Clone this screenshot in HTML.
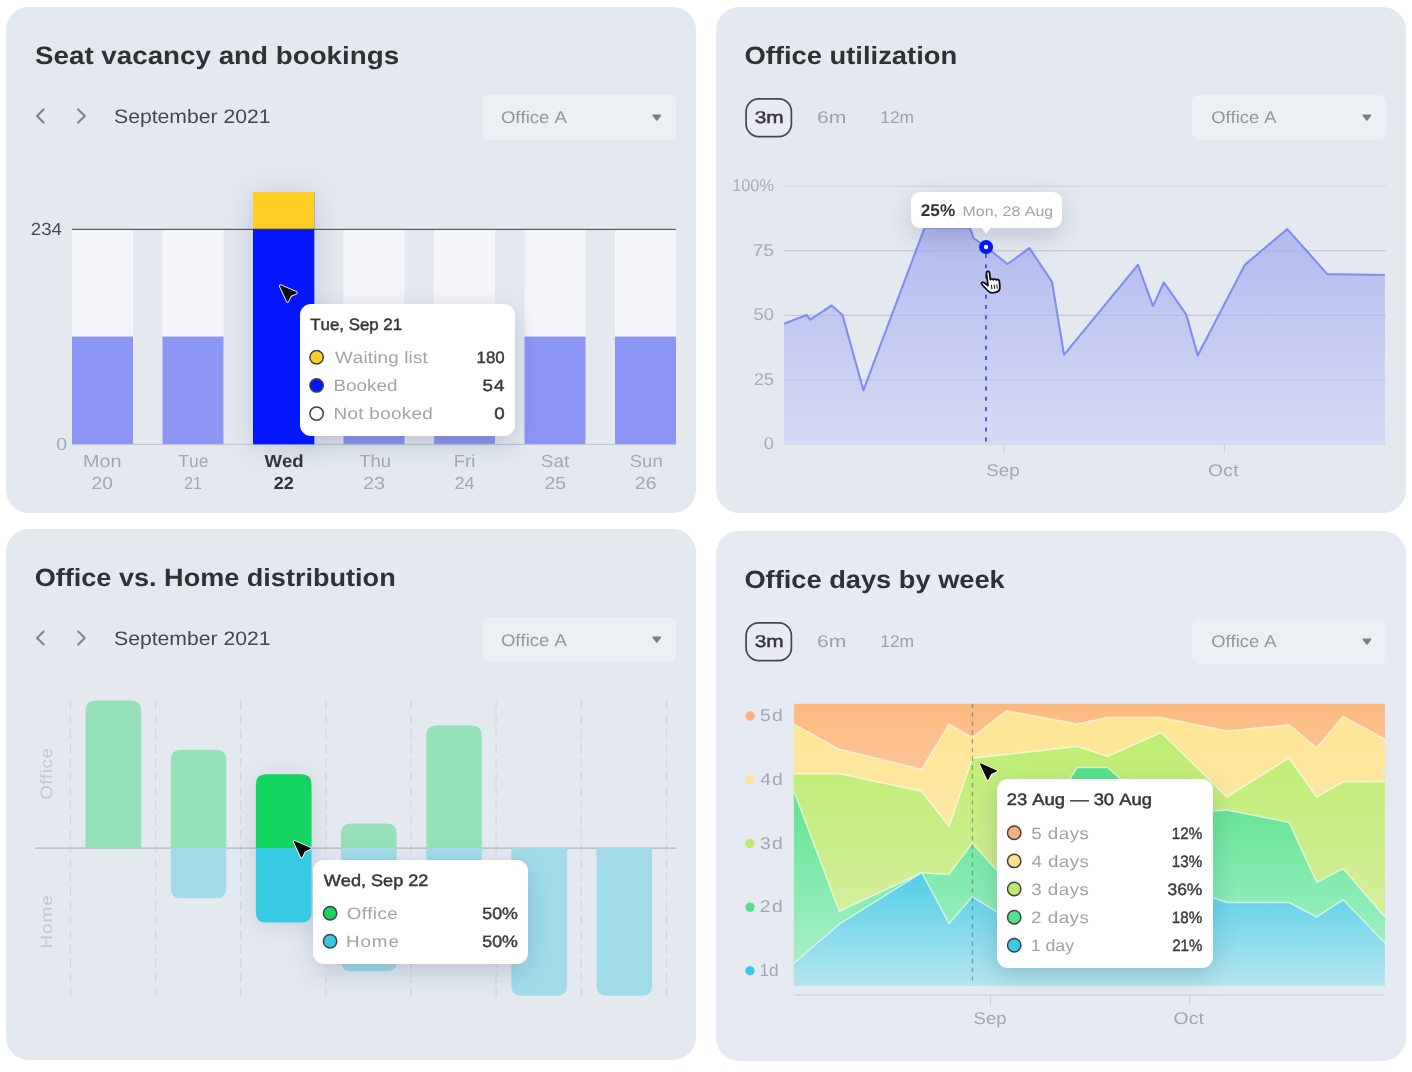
<!DOCTYPE html>
<html lang="en"><head><meta charset="utf-8"><title>Office dashboard</title><style>
html,body{margin:0;padding:0;background:#fff;}
body{width:1412px;height:1072px;position:relative;overflow:hidden;font-family:"Liberation Sans",sans-serif;}
.card{position:absolute;background:#e4e9f0;border-radius:23px;}
.t{position:absolute;left:0;top:0;white-space:nowrap;line-height:1;font-kerning:none;text-rendering:geometricPrecision;}
.dd{position:absolute;width:194px;height:44.5px;border-radius:6.5px;background:#ecf0f4;}
.pill{position:absolute;width:44.2px;height:36.6px;border:1.7px solid #45474b;border-radius:13.5px;background:#e8ecf2;}
.tip{position:absolute;background:#fff;border-radius:11px;box-shadow:0 8px 24px rgba(45,55,95,.20);}
.tip.ns{box-shadow:none;}
.dot{position:absolute;width:12px;height:12px;border-radius:50%;border:1.5px solid #3f4145;}
svg{position:absolute;left:0;top:0;overflow:visible;}
</style></head><body>
<div class="card" style="left:6px;top:7px;width:690px;height:506px"></div>
<div class="card" style="left:716px;top:7px;width:690px;height:506px"></div>
<div class="card" style="left:6px;top:528.5px;width:690px;height:531.5px"></div>
<div class="card" style="left:716px;top:530.5px;width:690px;height:530px;background:#e6eaf2"></div>
<div class="dd" style="left:482px;top:95px"></div>
<div class="dd" style="left:1192px;top:95px"></div>
<div class="dd" style="left:482px;top:617px"></div>
<div class="dd" style="left:1192px;top:619px"></div>
<svg width="1412" height="1072" viewBox="0 0 1412 1072"><defs>
<filter id="tsh" x="-30%" y="-40%" width="160%" height="200%"><feOffset dy="8"/><feGaussianBlur stdDeviation="12"/></filter>
<filter id="sh1" x="-150%" y="-40%" width="400%" height="180%"><feOffset dy="2"/><feGaussianBlur stdDeviation="15"/><feComponentTransfer><feFuncA type="linear" slope=".40"/></feComponentTransfer><feColorMatrix values="0 0 0 0 .25  0 0 0 0 .28  0 0 0 0 .4  0 0 0 1 0"/></filter>
<filter id="sh3" x="-150%" y="-60%" width="400%" height="220%"><feOffset dy="3"/><feGaussianBlur stdDeviation="12"/><feComponentTransfer><feFuncA type="linear" slope=".30"/></feComponentTransfer><feColorMatrix values="0 0 0 0 .25  0 0 0 0 .3  0 0 0 0 .4  0 0 0 1 0"/></filter>
<linearGradient id="g2" gradientUnits="userSpaceOnUse" x1="0" y1="228" x2="0" y2="444"><stop offset="0" stop-color="#b3bbef"/><stop offset="1" stop-color="#d6dbf3"/></linearGradient>
<linearGradient id="a5" gradientUnits="userSpaceOnUse" x1="0" y1="703" x2="0" y2="986"><stop offset="0" stop-color="#fdba7f"/><stop offset=".3" stop-color="#fbc7a0"/><stop offset="1" stop-color="#fbd5b8"/></linearGradient>
<linearGradient id="a4" gradientUnits="userSpaceOnUse" x1="0" y1="711" x2="0" y2="986"><stop offset="0" stop-color="#fee694"/><stop offset=".45" stop-color="#fbe7a8"/><stop offset="1" stop-color="#fbeec8"/></linearGradient>
<linearGradient id="a3" gradientUnits="userSpaceOnUse" x1="0" y1="732" x2="0" y2="986"><stop offset="0" stop-color="#bcee70"/><stop offset=".7" stop-color="#d4ee9b"/><stop offset="1" stop-color="#e0f0b4"/></linearGradient>
<linearGradient id="a2" gradientUnits="userSpaceOnUse" x1="0" y1="767" x2="0" y2="986"><stop offset="0" stop-color="#56e28a"/><stop offset=".55" stop-color="#86ebb0"/><stop offset="1" stop-color="#b4f0cc"/></linearGradient>
<linearGradient id="a1" gradientUnits="userSpaceOnUse" x1="0" y1="872" x2="0" y2="986"><stop offset="0" stop-color="#50cde8"/><stop offset="1" stop-color="#b5e6ee"/></linearGradient>
</defs>
<g fill="none" stroke="#80848e" stroke-width="2.1" stroke-linecap="round" stroke-linejoin="round"><path d="M43.6 109.4 L37 116 L43.6 122.6" /><path d="M78.2 109.4 L84.8 116 L78.2 122.6" /><path d="M43.6 631.4 L37 638 L43.6 644.6" /><path d="M78.2 631.4 L84.8 638 L78.2 644.6" /></g>
<path d="M653.1999999999999 115.2 L660.4 115.2 L656.8 119.89999999999999 Z" fill="#7a7e87" stroke="#7a7e87" stroke-width="1.6" stroke-linejoin="round"/>
<path d="M1363.3000000000002 115.2 L1370.5 115.2 L1366.9 119.89999999999999 Z" fill="#7a7e87" stroke="#7a7e87" stroke-width="1.6" stroke-linejoin="round"/>
<path d="M653.1999999999999 637.1999999999999 L660.4 637.1999999999999 L656.8 641.9 Z" fill="#7a7e87" stroke="#7a7e87" stroke-width="1.6" stroke-linejoin="round"/>
<path d="M1363.3000000000002 639.1999999999999 L1370.5 639.1999999999999 L1366.9 643.9 Z" fill="#7a7e87" stroke="#7a7e87" stroke-width="1.6" stroke-linejoin="round"/>
<rect x="746.1" y="98.85" width="45.3" height="37.8" rx="12.6" fill="#e8ecf2" stroke="#45474b" stroke-width="1.7"/>
<rect x="746.1" y="622.85" width="45.3" height="37.8" rx="12.6" fill="#e8ecf2" stroke="#45474b" stroke-width="1.7"/>
<rect x="253" y="192" width="61.3" height="252.3" fill="#0316fd" filter="url(#sh1)"/>
<rect x="72.0" y="229.6" width="61" height="214.6" fill="#f3f5f9"/>
<rect x="72.0" y="336.6" width="61" height="107.6" fill="#8b95f3"/>
<rect x="162.5" y="229.6" width="61" height="214.6" fill="#f3f5f9"/>
<rect x="162.5" y="336.6" width="61" height="107.6" fill="#8b95f3"/>
<rect x="343.5" y="229.6" width="61" height="214.6" fill="#f3f5f9"/>
<rect x="343.5" y="336.6" width="61" height="107.6" fill="#8b95f3"/>
<rect x="434.0" y="229.6" width="61" height="214.6" fill="#f3f5f9"/>
<rect x="434.0" y="336.6" width="61" height="107.6" fill="#8b95f3"/>
<rect x="524.5" y="229.6" width="61" height="214.6" fill="#f3f5f9"/>
<rect x="524.5" y="336.6" width="61" height="107.6" fill="#8b95f3"/>
<rect x="615.0" y="229.6" width="61" height="214.6" fill="#f3f5f9"/>
<rect x="615.0" y="336.6" width="61" height="107.6" fill="#8b95f3"/>
<rect x="72" y="443.8" width="604" height="1" fill="#b9bcc4"/>
<rect x="300" y="304" width="215" height="132" rx="11" fill="rgb(45,55,95)" fill-opacity=".2" filter="url(#tsh)"/>
<rect x="253" y="192" width="61.3" height="252.3" fill="#0316fd"/>
<rect x="253" y="192" width="61.3" height="37.6" fill="#ffce27"/>
<rect x="72" y="228.8" width="604" height="1.1" fill="#4a4c52"/>
<rect x="253" y="228.8" width="61.3" height="1.1" fill="#35386b"/>
<rect x="784" y="185.6" width="602" height="1.2" fill="#d2d6dd"/>
<rect x="784" y="250.20000000000002" width="602" height="1.2" fill="#d2d6dd"/>
<rect x="784" y="314.79999999999995" width="602" height="1.2" fill="#d2d6dd"/>
<rect x="784" y="379.4" width="602" height="1.2" fill="#d2d6dd"/>
<rect x="784" y="443.7" width="602" height="1.2" fill="#d2d6dd"/>
<polygon points="784,444.3 784,323.7 806.7,315 810.3,319.6 831.6,305.5 842.5,315 863.4,390.3 924.6,227.8 969.9,227.8 973.5,238 986,247 1007.5,264 1029.5,248.2 1052,281.8 1064,354.8 1137.9,264.9 1153,306.1 1163.8,282.4 1186.3,314.7 1197.7,355.4 1244.8,264.9 1287.3,229.1 1327.3,274.1 1385,275 1385,444.3" fill="url(#g2)"/>
<rect x="784" y="250.20000000000002" width="601" height="1.2" fill="#7d86c9" opacity=".16"/>
<rect x="784" y="314.79999999999995" width="601" height="1.2" fill="#7d86c9" opacity=".16"/>
<rect x="784" y="379.4" width="601" height="1.2" fill="#7d86c9" opacity=".16"/>
<polyline points="784,323.7 806.7,315 810.3,319.6 831.6,305.5 842.5,315 863.4,390.3 924.6,227.8 969.9,227.8 973.5,238 986,247 1007.5,264 1029.5,248.2 1052,281.8 1064,354.8 1137.9,264.9 1153,306.1 1163.8,282.4 1186.3,314.7 1197.7,355.4 1244.8,264.9 1287.3,229.1 1327.3,274.1 1385,275" fill="none" stroke="#818df0" stroke-width="2.1" stroke-linejoin="round"/>
<rect x="1003.6" y="444.3" width="1" height="9" fill="#cdd0d8"/><rect x="1223.8" y="444.3" width="1" height="9" fill="#cdd0d8"/>
<line x1="986" y1="254" x2="986" y2="444.5" stroke="#4453f1" stroke-width="1.9" stroke-dasharray="4 6.2"/>
<line x1="70.4" y1="700.6" x2="70.4" y2="996.6" stroke="#d4d7de" stroke-width="1.3" stroke-dasharray="9 5.35"/>
<line x1="155.6" y1="700.6" x2="155.6" y2="996.6" stroke="#d4d7de" stroke-width="1.3" stroke-dasharray="9 5.35"/>
<line x1="240.7" y1="700.6" x2="240.7" y2="996.6" stroke="#d4d7de" stroke-width="1.3" stroke-dasharray="9 5.35"/>
<line x1="325.9" y1="700.6" x2="325.9" y2="996.6" stroke="#d4d7de" stroke-width="1.3" stroke-dasharray="9 5.35"/>
<line x1="411.0" y1="700.6" x2="411.0" y2="996.6" stroke="#d4d7de" stroke-width="1.3" stroke-dasharray="9 5.35"/>
<line x1="496.1" y1="700.6" x2="496.1" y2="996.6" stroke="#d4d7de" stroke-width="1.3" stroke-dasharray="9 5.35"/>
<line x1="581.3" y1="700.6" x2="581.3" y2="996.6" stroke="#d4d7de" stroke-width="1.3" stroke-dasharray="9 5.35"/>
<line x1="666.5" y1="700.6" x2="666.5" y2="996.6" stroke="#d4d7de" stroke-width="1.3" stroke-dasharray="9 5.35"/>
<rect x="35" y="847.6" width="641.5" height="1" fill="#a6a9af"/>
<path d="M85.6 848 V710.6 Q85.6 700.6 95.6 700.6 H131.2 Q141.2 700.6 141.2 710.6 V848 Z" fill="#96e1b9"/>
<path d="M170.75 848 V759.8 Q170.75 749.8 180.75 749.8 H216.35 Q226.35 749.8 226.35 759.8 V848 Z" fill="#96e1b9"/>
<path d="M170.75 848 V888.2 Q170.75 898.2 180.75 898.2 H216.35 Q226.35 898.2 226.35 888.2 V848 Z" fill="#a1dce8"/>
<path d="M341.05 848 V833.4 Q341.05 823.4 351.05 823.4 H386.65000000000003 Q396.65000000000003 823.4 396.65000000000003 833.4 V848 Z" fill="#96e1b9"/>
<path d="M341.05 848 V961.2 Q341.05 971.2 351.05 971.2 H386.65000000000003 Q396.65000000000003 971.2 396.65000000000003 961.2 V848 Z" fill="#a1dce8"/>
<path d="M426.20000000000005 848 V735.4 Q426.20000000000005 725.4 436.20000000000005 725.4 H471.80000000000007 Q481.80000000000007 725.4 481.80000000000007 735.4 V848 Z" fill="#96e1b9"/>
<path d="M426.20000000000005 848 V863 Q426.20000000000005 873 436.20000000000005 873 H471.80000000000007 Q481.80000000000007 873 481.80000000000007 863 V848 Z" fill="#a1dce8"/>
<path d="M511.35 848 V985.8 Q511.35 995.8 521.35 995.8 H556.95 Q566.95 995.8 566.95 985.8 V848 Z" fill="#a1dce8"/>
<path d="M596.5 848 V985.8 Q596.5 995.8 606.5 995.8 H642.1 Q652.1 995.8 652.1 985.8 V848 Z" fill="#a1dce8"/>
<rect x="255.9" y="774.2" width="55.6" height="148.4" rx="10" fill="#13d460" filter="url(#sh3)"/>
<rect x="313.3" y="860.1" width="215.2" height="104" rx="11" fill="rgb(45,55,95)" fill-opacity=".2" filter="url(#tsh)"/>
<path d="M255.9 848 V784.2 Q255.9 774.2 265.9 774.2 H301.5 Q311.5 774.2 311.5 784.2 V848 Z" fill="#13d460"/>
<path d="M255.9 848 V912.6 Q255.9 922.6 265.9 922.6 H301.5 Q311.5 922.6 311.5 912.6 V848 Z" fill="#35c9e2"/>
<rect x="793.9" y="703.8" width="591.1" height="282.0" fill="url(#a5)"/>
<polygon points="793.9,985.8 793.9,724.1 839.3,749.3 921.7,769.5 949.1,724.1 972.3,737.7 1006.3,710.8 1077.1,724.1 1107.5,717.5 1161,717.5 1226.9,731.1 1289.1,724.7 1316.6,747.8 1343.2,716.6 1385.0,739.2 1385.0,985.8" fill="url(#a4)"/>
<polyline points="793.9,724.1 839.3,749.3 921.7,769.5 949.1,724.1 972.3,737.7 1006.3,710.8 1077.1,724.1 1107.5,717.5 1161,717.5 1226.9,731.1 1289.1,724.7 1316.6,747.8 1343.2,716.6 1385.0,739.2" fill="none" stroke="#fff" stroke-opacity=".6" stroke-width="1.5" stroke-linejoin="round"/>
<polygon points="793.9,985.8 793.9,773.8 839.3,773.8 921.7,791.2 949.1,826.5 972.3,758.3 1006.3,754.5 1077.1,746.4 1107.5,756.5 1161,732.5 1226.9,797 1289.1,758 1316.6,797 1343.2,782 1385.0,781.4 1385.0,985.8" fill="url(#a3)"/>
<polyline points="793.9,773.8 839.3,773.8 921.7,791.2 949.1,826.5 972.3,758.3 1006.3,754.5 1077.1,746.4 1107.5,756.5 1161,732.5 1226.9,797 1289.1,758 1316.6,797 1343.2,782 1385.0,781.4" fill="none" stroke="#fff" stroke-opacity=".6" stroke-width="1.5" stroke-linejoin="round"/>
<polygon points="793.9,985.8 793.9,791.2 839.3,911.2 921.7,872.7 949.1,874.4 972.3,843.2 1006.3,881 1077.1,767.5 1107.5,767.5 1161,815 1226.9,810 1289.1,822.4 1316.6,882.3 1343.2,868.7 1385.0,917 1385.0,985.8" fill="url(#a2)"/>
<polyline points="793.9,791.2 839.3,911.2 921.7,872.7 949.1,874.4 972.3,843.2 1006.3,881 1077.1,767.5 1107.5,767.5 1161,815 1226.9,810 1289.1,822.4 1316.6,882.3 1343.2,868.7 1385.0,917" fill="none" stroke="#fff" stroke-opacity=".6" stroke-width="1.5" stroke-linejoin="round"/>
<polygon points="793.9,985.8 793.9,963.2 839.3,924.2 921.7,872.7 949.1,923.6 972.3,896.7 1006.3,918 1077.1,905 1107.5,890 1161,880 1226.9,902.5 1289.1,902.5 1316.6,917 1343.2,899.7 1385.0,943 1385.0,985.8" fill="url(#a1)"/>
<polyline points="793.9,963.2 839.3,924.2 921.7,872.7 949.1,923.6 972.3,896.7 1006.3,918 1077.1,905 1107.5,890 1161,880 1226.9,902.5 1289.1,902.5 1316.6,917 1343.2,899.7 1385.0,943" fill="none" stroke="#fff" stroke-opacity=".6" stroke-width="1.5" stroke-linejoin="round"/>
<rect x="793.9" y="994.3" width="590.6999999999999" height="1.3" fill="#d0d4db"/>
<rect x="989.9" y="995.4" width="1" height="10" fill="#cdd0d8"/><rect x="1189.2" y="995.4" width="1" height="10" fill="#cdd0d8"/>
<line x1="972.4" y1="703.8" x2="972.4" y2="985.8" stroke="#66706f" stroke-opacity=".62" stroke-width="1.3" stroke-dasharray="4.4 4.4"/>
<circle cx="750" cy="716.0" r="4.7" fill="#fdb07a"/>
<circle cx="750" cy="779.7" r="4.7" fill="#fde49a"/>
<circle cx="750" cy="843.4" r="4.7" fill="#bfea6c"/>
<circle cx="750" cy="907.1" r="4.7" fill="#55e08e"/>
<circle cx="750" cy="970.8" r="4.7" fill="#3fc9e9"/>
</svg>
<span class="t" style="font-size:25px;color:#2f3135;font-weight:700;transform-origin:0 0;transform:translate(35.00px,44px) scaleX(1.1105);">Seat vacancy and bookings</span>
<span class="t" style="font-size:19.5px;color:#45474c;transform-origin:0 0;transform:translate(114.04px,108px) scaleX(1.0854);">September 2021</span>
<span class="t" style="font-size:17px;color:#92969d;transform-origin:0 0;transform:translate(500.92px,109px) scaleX(1.0902);">Office A</span>
<span class="t" style="font-size:17.5px;color:#46484c;transform-origin:0 0;transform:translate(30.87px,221px) scaleX(1.0610);">234</span>
<span class="t" style="font-size:17.5px;color:#a9acb1;transform-origin:0 0;transform:translate(56.24px,436px) scaleX(1.1117);">0</span>
<span class="t" style="font-size:17.5px;color:#a3a6ab;transform-origin:0 0;transform:translate(83.08px,453px) scaleX(1.1312);">Mon</span>
<span class="t" style="font-size:17.5px;color:#a3a6ab;transform-origin:0 0;transform:translate(91.54px,475px) scaleX(1.0893);">20</span>
<span class="t" style="font-size:17.5px;color:#a3a6ab;transform-origin:0 0;transform:translate(178.31px,453px);">Tue</span>
<span class="t" style="font-size:17.5px;color:#a3a6ab;transform-origin:0 0;transform:translate(184.23px,475px) scaleX(0.9000);">21</span>
<span class="t" style="font-size:17.5px;color:#333539;font-weight:700;transform-origin:0 0;transform:translate(264.48px,453px) scaleX(1.0624);">Wed</span>
<span class="t" style="font-size:17.5px;color:#333539;font-weight:700;transform-origin:0 0;transform:translate(273.68px,475px) scaleX(1.0299);">22</span>
<span class="t" style="font-size:17.5px;color:#a3a6ab;transform-origin:0 0;transform:translate(359.19px,453px) scaleX(1.0525);">Thu</span>
<span class="t" style="font-size:17.5px;color:#a3a6ab;transform-origin:0 0;transform:translate(363.00px,475px) scaleX(1.1338);">23</span>
<span class="t" style="font-size:17.5px;color:#a3a6ab;transform-origin:0 0;transform:translate(453.78px,453px) scaleX(1.0567);">Fri</span>
<span class="t" style="font-size:17.5px;color:#a3a6ab;transform-origin:0 0;transform:translate(454.38px,475px) scaleX(1.0403);">24</span>
<span class="t" style="font-size:17.5px;color:#a3a6ab;transform-origin:0 0;transform:translate(540.84px,453px) scaleX(1.0772);">Sat</span>
<span class="t" style="font-size:17.5px;color:#a3a6ab;transform-origin:0 0;transform:translate(544.43px,475px) scaleX(1.1036);">25</span>
<span class="t" style="font-size:17.5px;color:#a3a6ab;transform-origin:0 0;transform:translate(629.76px,453px) scaleX(1.0580);">Sun</span>
<span class="t" style="font-size:17.5px;color:#a3a6ab;transform-origin:0 0;transform:translate(634.82px,475px) scaleX(1.1170);">26</span>
<span class="t" style="font-size:25px;color:#2f3135;font-weight:700;transform-origin:0 0;transform:translate(744.38px,44px) scaleX(1.0945);">Office utilization</span>
<span class="t" style="font-size:17px;color:#333539;-webkit-text-stroke:0.45px currentColor;transform-origin:0 0;transform:translate(754.71px,109px) scaleX(1.2267);">3m</span>
<span class="t" style="font-size:17px;color:#9da1a8;transform-origin:0 0;transform:translate(816.93px,109px) scaleX(1.2389);">6m</span>
<span class="t" style="font-size:17px;color:#9da1a8;transform-origin:0 0;transform:translate(880.17px,109px) scaleX(1.0276);">12m</span>
<span class="t" style="font-size:17px;color:#92969d;transform-origin:0 0;transform:translate(1211.13px,109px) scaleX(1.0818);">Office A</span>
<span class="t" style="font-size:17px;color:#a9acb1;transform-origin:0 0;transform:translate(732.16px,177px) scaleX(0.9596);">100%</span>
<span class="t" style="font-size:17px;color:#a9acb1;letter-spacing:0.132px;transform-origin:0 0;transform:translate(752.41px,242px) scaleX(1.1400);">75</span>
<span class="t" style="font-size:17px;color:#a9acb1;transform-origin:0 0;transform:translate(753.60px,306px) scaleX(1.0800);">50</span>
<span class="t" style="font-size:17px;color:#a9acb1;transform-origin:0 0;transform:translate(753.65px,371px) scaleX(1.0800);">25</span>
<span class="t" style="font-size:17px;color:#a9acb1;transform-origin:0 0;transform:translate(763.81px,435px) scaleX(1.0800);">0</span>
<span class="t" style="font-size:17px;color:#a3a6ab;transform-origin:0 0;transform:translate(986.35px,462px) scaleX(1.1021);">Sep</span>
<span class="t" style="font-size:17px;color:#a3a6ab;letter-spacing:0.312px;transform-origin:0 0;transform:translate(1207.88px,462px) scaleX(1.1400);">Oct</span>
<span class="t" style="font-size:25px;color:#2f3135;font-weight:700;transform-origin:0 0;transform:translate(34.69px,566px) scaleX(1.0828);">Office vs. Home distribution</span>
<span class="t" style="font-size:19.5px;color:#45474c;transform-origin:0 0;transform:translate(114.04px,630px) scaleX(1.0854);">September 2021</span>
<span class="t" style="font-size:17px;color:#92969d;transform-origin:0 0;transform:translate(500.92px,632px) scaleX(1.0902);">Office A</span>
<span class="t" style="left:53.20px;top:785.03px;font-size:16.5px;color:#c3c7ce;transform-origin:0 13.97px;letter-spacing:0.456px;transform:rotate(-90deg) translateX(-0.89px) scaleX(1.1400);">Office</span>
<span class="t" style="left:53.20px;top:933.43px;font-size:16.5px;color:#c3c7ce;transform-origin:0 13.97px;letter-spacing:0.878px;transform:rotate(-90deg) translateX(-1.54px) scaleX(1.1400);">Home</span>
<span class="t" style="font-size:25px;color:#2f3135;font-weight:700;transform-origin:0 0;transform:translate(744.38px,568px) scaleX(1.0895);">Office days by week</span>
<span class="t" style="font-size:17px;color:#333539;-webkit-text-stroke:0.45px currentColor;transform-origin:0 0;transform:translate(754.71px,633px) scaleX(1.2267);">3m</span>
<span class="t" style="font-size:17px;color:#9da1a8;transform-origin:0 0;transform:translate(816.93px,633px) scaleX(1.2389);">6m</span>
<span class="t" style="font-size:17px;color:#9da1a8;transform-origin:0 0;transform:translate(880.17px,633px) scaleX(1.0276);">12m</span>
<span class="t" style="font-size:17px;color:#92969d;transform-origin:0 0;transform:translate(1211.13px,633px) scaleX(1.0818);">Office A</span>
<span class="t" style="font-size:17px;color:#a3a6ab;letter-spacing:1.113px;transform-origin:0 0;transform:translate(759.92px,707px) scaleX(1.1400);">5d</span>
<span class="t" style="font-size:17px;color:#a3a6ab;letter-spacing:0.822px;transform-origin:0 0;transform:translate(760.26px,771px) scaleX(1.1400);">4d</span>
<span class="t" style="font-size:17px;color:#a3a6ab;letter-spacing:1.080px;transform-origin:0 0;transform:translate(759.96px,835px) scaleX(1.1400);">3d</span>
<span class="t" style="font-size:17px;color:#a3a6ab;letter-spacing:1.287px;transform-origin:0 0;transform:translate(759.73px,898px) scaleX(1.1400);">2d</span>
<span class="t" style="font-size:17px;color:#a3a6ab;transform-origin:0 0;transform:translate(759.40px,962px) scaleX(1.0049);">1d</span>
<span class="t" style="font-size:17px;color:#a3a6ab;transform-origin:0 0;transform:translate(973.56px,1010px) scaleX(1.0882);">Sep</span>
<span class="t" style="font-size:17px;color:#a3a6ab;letter-spacing:0.093px;transform-origin:0 0;transform:translate(1173.58px,1010px) scaleX(1.1400);">Oct</span>
<div class="tip ns" style="left:300px;top:304px;width:215px;height:132px"></div>
<div class="tip" style="left:911px;top:192px;width:151px;height:36px;border-radius:9px"></div>
<div class="tip ns" style="left:313.3px;top:860.1px;width:215.2px;height:104px"></div>
<div class="tip" style="left:997px;top:779.2px;width:215.5px;height:188.5px"></div>
<span class="t" style="font-size:16.5px;color:#333539;-webkit-text-stroke:0.45px currentColor;transform-origin:0 0;transform:translate(310.22px,317px) scaleX(1.0223);">Tue, Sep 21</span>
<span class="t" style="font-size:16.5px;color:#a2a3a6;letter-spacing:0.150px;transform-origin:0 0;transform:translate(334.92px,350px) scaleX(1.1400);">Waiting list</span>
<span class="t" style="font-size:16.5px;color:#a2a3a6;letter-spacing:0.045px;transform-origin:0 0;transform:translate(333.46px,378px) scaleX(1.1400);">Booked</span>
<span class="t" style="font-size:16.5px;color:#a2a3a6;letter-spacing:0.307px;transform-origin:0 0;transform:translate(333.46px,406px) scaleX(1.1400);">Not booked</span>
<span class="t" style="font-size:16.5px;color:#3a3c40;-webkit-text-stroke:0.45px currentColor;transform-origin:0 0;transform:translate(476.52px,350px) scaleX(1.0223);">180</span>
<span class="t" style="font-size:16.5px;color:#3a3c40;-webkit-text-stroke:0.45px currentColor;letter-spacing:1.037px;transform-origin:0 0;transform:translate(482.45px,378px) scaleX(1.1400);">54</span>
<span class="t" style="font-size:16.5px;color:#3a3c40;-webkit-text-stroke:0.45px currentColor;letter-spacing:0.007px;transform-origin:0 0;transform:translate(494.27px,406px) scaleX(1.1400);">0</span>
<span class="t" style="font-size:17px;color:#333539;font-weight:700;transform-origin:0 0;transform:translate(920.81px,202px) scaleX(1.0095);">25%</span>
<span class="t" style="font-size:14px;color:#a2a3a6;letter-spacing:0.021px;transform-origin:0 0;transform:translate(962.49px,204px) scaleX(1.1400);">Mon, 28 Aug</span>
<span class="t" style="font-size:16.5px;color:#333539;-webkit-text-stroke:0.45px currentColor;transform-origin:0 0;transform:translate(323.72px,873px) scaleX(1.0975);">Wed, Sep 22</span>
<span class="t" style="font-size:16.5px;color:#a2a3a6;letter-spacing:0.316px;transform-origin:0 0;transform:translate(346.71px,906px) scaleX(1.1400);">Office</span>
<span class="t" style="font-size:16.5px;color:#a2a3a6;letter-spacing:0.761px;transform-origin:0 0;transform:translate(346.06px,934px) scaleX(1.1400);">Home</span>
<span class="t" style="font-size:16.5px;color:#3a3c40;-webkit-text-stroke:0.45px currentColor;transform-origin:0 0;transform:translate(482.29px,906px) scaleX(1.0795);">50%</span>
<span class="t" style="font-size:16.5px;color:#3a3c40;-webkit-text-stroke:0.45px currentColor;transform-origin:0 0;transform:translate(482.29px,934px) scaleX(1.0795);">50%</span>
<span class="t" style="font-size:16.5px;color:#333539;-webkit-text-stroke:0.45px currentColor;transform-origin:0 0;transform:translate(1006.78px,792px) scaleX(1.1140);">23 Aug — 30 Aug</span>
<span class="t" style="font-size:16.5px;color:#a2a3a6;letter-spacing:0.388px;transform-origin:0 0;transform:translate(1031.25px,826px) scaleX(1.1400);">5 days</span>
<span class="t" style="font-size:16.5px;color:#3a3c40;-webkit-text-stroke:0.45px currentColor;transform-origin:0 0;transform:translate(1171.84px,826px) scaleX(0.9205);">12%</span>
<span class="t" style="font-size:16.5px;color:#a2a3a6;letter-spacing:0.332px;transform-origin:0 0;transform:translate(1031.57px,854px) scaleX(1.1400);">4 days</span>
<span class="t" style="font-size:16.5px;color:#3a3c40;-webkit-text-stroke:0.45px currentColor;transform-origin:0 0;transform:translate(1171.84px,854px) scaleX(0.9205);">13%</span>
<span class="t" style="font-size:16.5px;color:#a2a3a6;letter-spacing:0.382px;transform-origin:0 0;transform:translate(1031.28px,882px) scaleX(1.1400);">3 days</span>
<span class="t" style="font-size:16.5px;color:#3a3c40;-webkit-text-stroke:0.45px currentColor;transform-origin:0 0;transform:translate(1167.44px,882px) scaleX(1.0564);">36%</span>
<span class="t" style="font-size:16.5px;color:#a2a3a6;letter-spacing:0.422px;transform-origin:0 0;transform:translate(1031.05px,910px) scaleX(1.1400);">2 days</span>
<span class="t" style="font-size:16.5px;color:#3a3c40;-webkit-text-stroke:0.45px currentColor;transform-origin:0 0;transform:translate(1171.84px,910px) scaleX(0.9205);">18%</span>
<span class="t" style="font-size:16.5px;color:#a2a3a6;transform-origin:0 0;transform:translate(1030.65px,938px) scaleX(1.0774);">1 day</span>
<span class="t" style="font-size:16.5px;color:#3a3c40;-webkit-text-stroke:0.45px currentColor;transform-origin:0 0;transform:translate(1172.25px,938px) scaleX(0.9080);">21%</span>
<svg width="1412" height="1072" viewBox="0 0 1412 1072">
<circle cx="316.6" cy="357.2" r="6.7" fill="#ffce27" stroke="#3f4145" stroke-width="1.5"/><circle cx="316.6" cy="385.4" r="6.7" fill="#0316fd" stroke="#3f4145" stroke-width="1.5"/><circle cx="316.6" cy="413.6" r="6.7" fill="#fff" stroke="#3f4145" stroke-width="1.5"/>
<circle cx="330.1" cy="913.2" r="6.7" fill="#13d460" stroke="#3f4145" stroke-width="1.5"/><circle cx="330.1" cy="941.2" r="6.7" fill="#35c9e2" stroke="#3f4145" stroke-width="1.5"/>
<circle cx="1014.2" cy="832.8" r="6.7" fill="#fdb07a" stroke="#3f4145" stroke-width="1.5"/><circle cx="1014.2" cy="860.9" r="6.7" fill="#fde08c" stroke="#3f4145" stroke-width="1.5"/><circle cx="1014.2" cy="889" r="6.7" fill="#bfea6c" stroke="#3f4145" stroke-width="1.5"/><circle cx="1014.2" cy="917.2" r="6.7" fill="#55e08e" stroke="#3f4145" stroke-width="1.5"/><circle cx="1014.2" cy="945.3" r="6.7" fill="#3fc9e9" stroke="#3f4145" stroke-width="1.5"/>
<path d="M981.6 228 L990.6 228 L986.1 233.8 Z" fill="#fff"/>
<circle cx="986.1" cy="247" r="4.6" fill="#fff" stroke="#0316fd" stroke-width="4.8"/>
<g transform="translate(279.8 285)" stroke-linejoin="round"><path d="M0.8 1 L16.3 7.7 L10.5 10.4 L7.8 16.1 Z" fill="#fff" stroke="#fff" stroke-width="3.3"/><path d="M0.8 1 L16.3 7.7 L10.5 10.4 L7.8 16.1 Z" fill="#0c0c0e" stroke="#0c0c0e" stroke-width="1.5"/></g>
<g transform="translate(293.7 840.7)" stroke-linejoin="round"><path d="M0.8 1 L16.3 7.7 L10.5 10.4 L7.8 16.1 Z" fill="#fff" stroke="#fff" stroke-width="3.3"/><path d="M0.8 1 L16.3 7.7 L10.5 10.4 L7.8 16.1 Z" fill="#0c0c0e" stroke="#0c0c0e" stroke-width="1.5"/></g>
<g transform="translate(980 763.2)" stroke-linejoin="round"><path d="M0.8 1 L16.3 7.7 L10.5 10.4 L7.8 16.1 Z" fill="#fff" stroke="#fff" stroke-width="3.3"/><path d="M0.8 1 L16.3 7.7 L10.5 10.4 L7.8 16.1 Z" fill="#0c0c0e" stroke="#0c0c0e" stroke-width="1.5"/></g>
<g transform="translate(984.2 271.6) rotate(-7 4 10) scale(1.03)"><path d="M3.2 1.2 C3.2 -0.6 6.2 -0.6 6.2 1.2 L6.2 8.2 C6.5 7 9 7.2 9.1 8.6 C9.6 7.6 11.9 7.9 12 9.3 C12.6 8.5 14.6 8.9 14.6 10.4 L14.6 15 C14.6 18.6 12.6 21 9.4 21 L7 21 C4.8 21 3.4 20 2.2 18.2 L-2.6 11.6 C-3.6 10.2 -1.6 8.8 -0.4 10 L3.2 13.4 Z" fill="#fff" stroke="#0d0d0f" stroke-width="1.7" stroke-linejoin="round"/><path d="M6.6 13.4 V17.4 M9.2 13.4 V17.4 M11.8 13.4 V17.4" stroke="#0d0d0f" stroke-width="1" fill="none"/></g>
</svg>
</body></html>
